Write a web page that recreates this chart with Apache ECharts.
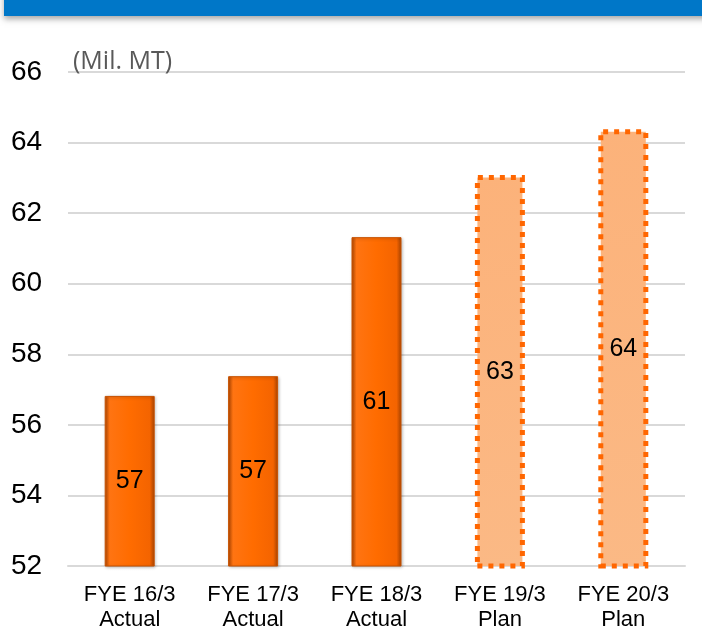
<!DOCTYPE html>
<html>
<head>
<meta charset="utf-8">
<script src="https://cdn.jsdelivr.net/npm/echarts@6/dist/echarts.min.js"></script>
<style>
html,body{margin:0;padding:0;background:#fff;}
#chart{width:702px;height:641px;}
</style>
</head>
<body>
<div id="chart"></div>
<script>
var categories = ['FYE 16/3\nActual', 'FYE 17/3\nActual', 'FYE 18/3\nActual', 'FYE 19/3\nPlan', 'FYE 20/3\nPlan'];
var values = [56.82, 57.38, 61.32, 63.08, 64.38];
var isPlan = [false, false, false, true, true];
var unitLabel = '(Mil. MT)';

var actualFill = new echarts.graphic.LinearGradient(0, 0, 1, 0, [
  {offset: 0, color: '#B54800'},
  {offset: 0.1, color: '#FF7412'},
  {offset: 0.5, color: '#FF6C00'},
  {offset: 0.9, color: '#F46400'},
  {offset: 1, color: '#A84300'}
]);
var planFill = new echarts.graphic.LinearGradient(0, 0, 1, 1, [
  {offset: 0, color: '#FCB27A'},
  {offset: 1, color: '#FBB985'}
]);

var seriesData = values.map(function (v, i) {
  return {
    value: v,
    itemStyle: isPlan[i] ? {
      color: planFill,
      borderColor: '#FF6600',
      borderWidth: 5,
      borderType: [5, 6]
    } : {
      color: actualFill,
      borderColor: '#C85200',
      borderWidth: 1,
      shadowColor: 'rgba(0,0,0,0.25)',
      shadowBlur: 3,
      shadowOffsetX: 1,
      shadowOffsetY: 1
    }
  };
});

var chart = echarts.init(document.getElementById('chart'), null, {renderer: 'canvas'});
chart.setOption({
  animation: false,
  backgroundColor: '#ffffff',
  graphic: [{
    type: 'rect',
    shape: {x: 4, y: -10, width: 710, height: 26},
    style: {fill: '#0077C8', shadowColor: 'rgba(0,0,0,0.35)', shadowBlur: 6, shadowOffsetY: 3},
    z: 10
  }],
  grid: {left: 68, right: 17, top: 72, bottom: 75},
  xAxis: {
    type: 'category',
    data: categories,
    axisLine: {show: true, lineStyle: {color: '#D9D9D9', width: 2}},
    axisTick: {show: false},
    axisLabel: {
      color: '#000',
      fontFamily: 'Liberation Sans',
      fontSize: 22,
      lineHeight: 25,
      margin: 16,
      interval: 0
    }
  },
  yAxis: {
    type: 'value',
    min: 52,
    max: 66,
    interval: 2,
    name: unitLabel,
    nameLocation: 'end',
    nameGap: 10,
    nameTextStyle: {
      color: '#595959',
      fontFamily: 'Open Sans',
      fontSize: 25,
      align: 'left',
      verticalAlign: 'middle',
      padding: [0, 0, 0, 5]
    },
    axisLine: {show: false},
    axisTick: {show: false},
    splitLine: {lineStyle: {color: '#D9D9D9', width: 2}},
    axisLabel: {
      color: '#000',
      fontFamily: 'Liberation Sans',
      fontSize: 28,
      align: 'left',
      margin: 57
    }
  },
  series: [{
    type: 'bar',
    data: seriesData,
    barWidth: 50,
    label: {
      show: true,
      position: 'inside',
      color: '#000',
      fontFamily: 'Liberation Sans',
      fontSize: 25,
      formatter: function (p) { return Math.round(p.value); }
    }
  }]
});
</script>
</body>
</html>
